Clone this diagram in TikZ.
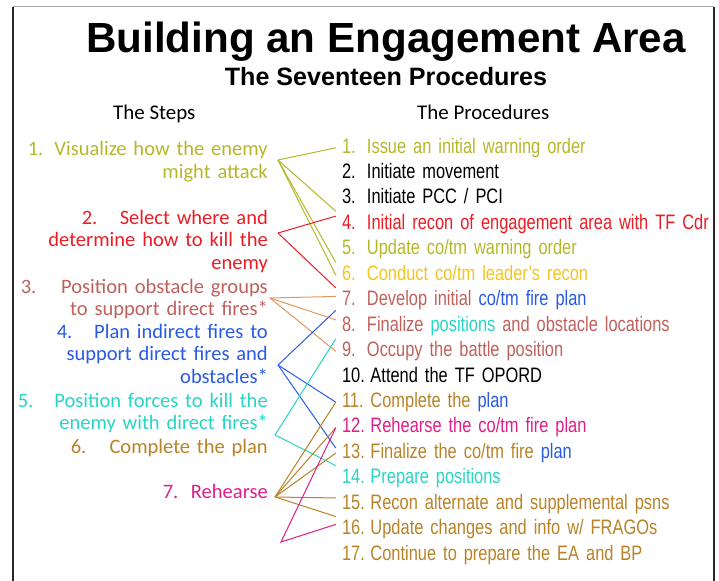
\documentclass[tikz,border=0pt]{standalone}
\usepackage{fontspec}
\usetikzlibrary{positioning}
\newfontfamily\headfont{Liberation Sans}
\newfontfamily\stepfont{Carlito}
\newfontfamily\procfont[FakeStretch=0.785]{Liberation Sans}
\definecolor{olive1}{RGB}{180,184,40}
\definecolor{red1}{RGB}{235,28,36}
\definecolor{rosy1}{RGB}{192,96,92}
\definecolor{orange1}{RGB}{228,150,90}
\definecolor{blue1}{RGB}{40,90,228}
\definecolor{turq1}{RGB}{40,212,196}
\definecolor{brown1}{RGB}{184,130,38}
\definecolor{magenta1}{RGB}{222,30,138}
\definecolor{gold1}{RGB}{245,196,30}
\tikzset{
stepnode/.style = {font=\stepfont\fontsize{20.6}{22.7}\selectfont, text width=255bp, align=right, inner sep=0pt, anchor=base east},
proc/.style = {font=\procfont\fontsize{21}{24}\selectfont, text width=385bp, align=left,
  minimum height=25.44bp, inner xsep=6bp, inner ysep=0pt, text height=15bp, text depth=4.5bp},
head/.style = {font=\stepfont\fontsize{21}{24}\selectfont, inner sep=0pt, anchor=base west},
hub/.style = {coordinate},
link/.style = {line width=1bp}
}

\begin{document}
\begin{tikzpicture}[x=1bp, y=-1bp, node distance=25.44bp]
    \useasboundingbox (0,0) rectangle (719,581);
    % frame of the slide
    \draw[gray!70, line width=1bp] (13,7) -- (714,7);
    \draw[black!85, line width=1.3bp] (13,7) -- (13,581);
    \draw[black!85, line width=1.3bp] (714,7) -- (714,581);

    % We start with the headings
    \node[font=\headfont\bfseries\fontsize{42.3}{46}\selectfont, anchor=base, inner sep=0pt] (title) at (386,53) {Building an Engagement Area};
    \node[font=\headfont\bfseries\fontsize{25.2}{28}\selectfont, anchor=base, inner sep=0pt] (subtitle) at (386,86) {The Seventeen Procedures};
    \node[head] (stepshead) at (113,119.5) {The Steps};
    \node[head] (procshead) at (417,119.5) {The Procedures};

    % the steps, right aligned
    \node[stepnode, olive1] (s1) at (268,156) {\makebox[240bp]{1.\hfill Visualize how the enemy}\\might attack};
    \node[stepnode, red1] (s2) at (268,224) {\makebox[186bp]{2.\hfill Select where and}\\determine how to kill the\\enemy};
    \node[stepnode, rosy1] (s3) at (268,293) {\makebox[247bp]{3.\hfill Position obstacle groups}\\to support direct fires*};
    \node[stepnode, blue1] (s4) at (268,338) {\makebox[211bp]{4.\hfill Plan indirect fires to}\\support direct fires and\\obstacles*};
    \node[stepnode, turq1] (s5) at (268,407) {\makebox[250bp]{5.\hfill Position forces to kill the}\\enemy with direct fires*};
    \node[stepnode, brown1] (s6) at (268,453) {\makebox[197bp]{6.\hfill Complete the plan}};
    \node[stepnode, magenta1] (s7) at (268,498) {\makebox[105bp]{7.\hfill Rehearse}};

    % the procedures, one below the other
    \node[proc, olive1] (p1) at (534.5,147.8) {\makebox[25bp][l]{1.}Issue an initial warning order};
    \node[proc, below of=p1] (p2) {\makebox[25bp][l]{2.}Initiate movement};
    \node[proc, below of=p2] (p3) {\makebox[25bp][l]{3.}Initiate PCC / PCI};
    \node[proc, red1, below of=p3] (p4) {\makebox[25bp][l]{4.}Initial recon of engagement area with TF Cdr};
    \node[proc, olive1, below of=p4] (p5) {\makebox[25bp][l]{5.}Update co/tm warning order};
    \node[proc, gold1, below of=p5] (p6) {\makebox[25bp][l]{6.}Conduct co/tm leader’s recon};
    \node[proc, rosy1, below of=p6] (p7) {\makebox[25bp][l]{7.}Develop initial \textcolor{blue1}{co/tm fire plan}};
    \node[proc, rosy1, below of=p7] (p8) {\makebox[25bp][l]{8.}Finalize \textcolor{turq1}{positions} and obstacle locations};
    \node[proc, rosy1, below of=p8] (p9) {\makebox[25bp][l]{9.}Occupy the battle position};
    \node[proc, below of=p9] (p10) {\makebox[28.5bp][l]{10.}Attend the TF OPORD};
    \node[proc, brown1, below of=p10] (p11) {\makebox[28.5bp][l]{11.}Complete the \textcolor{blue1}{plan}};
    \node[proc, magenta1, below of=p11] (p12) {\makebox[28.5bp][l]{12.}Rehearse the co/tm fire plan};
    \node[proc, brown1, below of=p12] (p13) {\makebox[28.5bp][l]{13.}Finalize the co/tm fire \textcolor{blue1}{plan}};
    \node[proc, turq1, below of=p13] (p14) {\makebox[28.5bp][l]{14.}Prepare positions};
    \node[proc, brown1, below of=p14] (p15) {\makebox[28.5bp][l]{15.}Recon alternate and supplemental psns};
    \node[proc, brown1, below of=p15] (p16) {\makebox[28.5bp][l]{16.}Update changes and info w/ FRAGOs};
    \node[proc, brown1, below of=p16] (p17) {\makebox[28.5bp][l]{17.}Continue to prepare the EA and BP};

    % points where the links of each step meet
    \node[hub] (hub1) at (278,160) {};
    \node[hub] (hub2) at (278,233) {};
    \node[hub] (hub3) at (270,298) {};
    \node[hub] (hub4) at (278,365) {};
    \node[hub] (hub5) at (275,435) {};
    \node[hub] (hub7) at (275,497) {};
    \node[hub] (hub7b) at (281,542) {};

    % Once the nodes are placed, connecting them is easy.
    \draw[link, olive1] (hub1) -- (p1.west);
    \draw[link, olive1] (hub1) -- (p4.north west);
    \draw[link, olive1] (hub1) -- (p5.south west);
    \draw[link, olive1] (hub1) -- (p6.west);
    \draw[link, red1] (hub2) -- ([yshift=8bp]p4.west);
    \draw[link, red1] (hub2) -- (p6.south west);
    \draw[link, orange1] (hub3) -- ([yshift=4bp]p7.west);
    \draw[link, orange1] (hub3) -- ([yshift=6bp]p8.west);
    \draw[link, orange1] (hub3) -- (p9.west);
    \draw[link, blue1] (hub4) -- ([yshift=3bp]p7.south west);
    \draw[link, blue1] (hub4) -- (p11.west);
    \draw[link, blue1] (hub4) -- ([yshift=5bp]p13.west);
    \draw[link, turq1] (p8.south west) -- (hub5) -- (p14.north west);
    \draw[link, brown1] (hub7) -- (p11.west);
    \draw[link, brown1] (hub7) -- (p12.west);
    \draw[link, brown1] (hub7) -- (p13.west);
    \draw[link, brown1] (hub7) -- ([yshift=6bp]p15.west);
    \draw[link, brown1] (hub7) -- (p16.north west);
    \draw[link, magenta1] (p12.west) -- (hub7b) -- ([yshift=5bp]p16.west);
\end{tikzpicture}
\end{document}
